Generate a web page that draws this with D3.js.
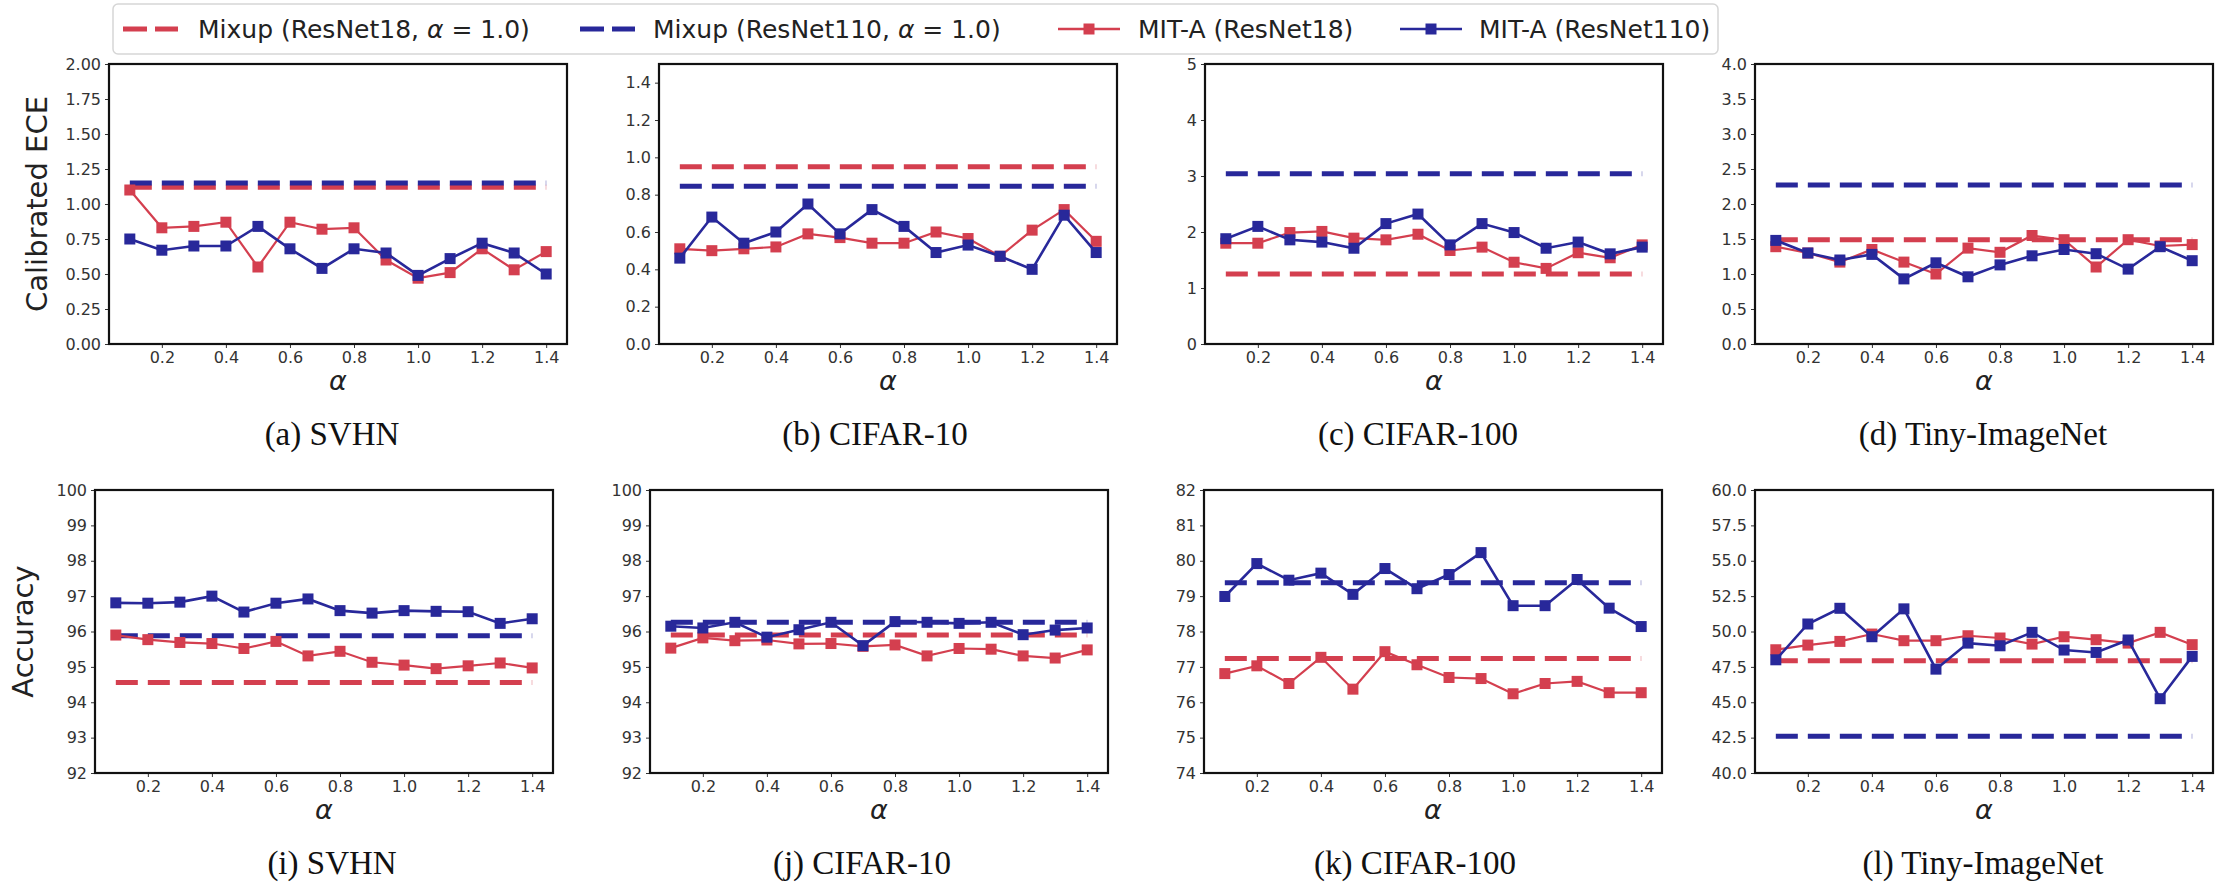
<!DOCTYPE html>
<html><head><meta charset="utf-8">
<script src="https://cdn.jsdelivr.net/npm/d3@7"></script>
<style>body{margin:0;background:#fff;} svg{display:block}</style>
</head><body>
<svg id="chart" width="2216" height="889"></svg>
<script>
// ---------------- DATA ----------------
const alphaValues = [0.1,0.2,0.3,0.4,0.5,0.6,0.7,0.8,0.9,1.0,1.1,1.2,1.3,1.4];
const xTickValues = [0.2,0.4,0.6,0.8,1.0,1.2,1.4];
const seriesLabels = ["Mixup (ResNet18, ", "Mixup (ResNet110, ", "MIT-A (ResNet18)", "MIT-A (ResNet110)"];
const datasetNames = ["SVHN","CIFAR-10","CIFAR-100","Tiny-ImageNet"];
const eceLetters = ["(a)","(b)","(c)","(d)"];
const accLetters = ["(i)","(j)","(k)","(l)"];

// Mixup baselines (alpha = 1.0), per dataset
const mixupR18ECE  = [1.12, 0.95, 1.25, 1.49];
const mixupR110ECE = [1.15, 0.845, 3.04, 2.27];
const mixupR18Acc  = [94.56, 95.90, 77.24, 47.93];
const mixupR110Acc = [95.88, 96.26, 79.38, 42.60];

// MIT-A calibrated ECE
const mitaR18ECE_SVHN   = [1.10,0.83,0.84,0.87,0.55,0.87,0.82,0.83,0.60,0.47,0.51,0.68,0.53,0.66];
const mitaR110ECE_SVHN  = [0.75,0.67,0.70,0.70,0.84,0.68,0.54,0.68,0.65,0.49,0.61,0.72,0.65,0.50];
const mitaR18ECE_C10    = [0.51,0.50,0.51,0.52,0.59,0.57,0.54,0.54,0.60,0.565,0.47,0.61,0.72,0.55];
const mitaR110ECE_C10   = [0.46,0.68,0.54,0.60,0.75,0.59,0.72,0.63,0.49,0.53,0.47,0.40,0.69,0.49];
const mitaR18ECE_C100   = [1.80,1.80,1.99,2.01,1.89,1.86,1.96,1.67,1.73,1.46,1.35,1.63,1.54,1.77];
const mitaR110ECE_C100  = [1.88,2.10,1.86,1.82,1.71,2.15,2.32,1.77,2.15,1.99,1.71,1.82,1.61,1.73];
const mitaR18ECE_Tiny   = [1.39,1.30,1.17,1.35,1.17,1.00,1.37,1.31,1.55,1.49,1.10,1.49,1.40,1.42];
const mitaR110ECE_Tiny  = [1.48,1.30,1.20,1.28,0.93,1.16,0.96,1.13,1.26,1.35,1.29,1.07,1.39,1.19];

// MIT-A accuracy
const mitaR18Acc_SVHN   = [95.90,95.77,95.69,95.66,95.52,95.72,95.31,95.44,95.13,95.05,94.95,95.03,95.11,94.97];
const mitaR110Acc_SVHN  = [96.81,96.80,96.83,97.00,96.55,96.80,96.92,96.59,96.52,96.59,96.57,96.56,96.23,96.36];
const mitaR18Acc_C10    = [95.53,95.82,95.74,95.76,95.65,95.66,95.58,95.62,95.31,95.52,95.50,95.31,95.25,95.48];
const mitaR110Acc_C10   = [96.15,96.10,96.26,95.84,96.05,96.26,95.60,96.28,96.26,96.23,96.26,95.91,96.04,96.10];
const mitaR18Acc_C100   = [76.81,77.03,76.53,77.27,76.37,77.43,77.06,76.70,76.67,76.24,76.53,76.59,76.27,76.27];
const mitaR110Acc_C100  = [78.99,79.92,79.45,79.65,79.05,79.78,79.21,79.61,80.23,78.73,78.73,79.47,78.66,78.14];
const mitaR18Acc_Tiny   = [48.71,49.04,49.30,49.82,49.35,49.35,49.70,49.54,49.11,49.63,49.42,49.18,49.94,49.07];
const mitaR110Acc_Tiny  = [48.00,50.53,51.64,49.63,51.60,47.34,49.18,48.99,49.94,48.69,48.52,49.40,45.25,48.24];

// Y axes
const yDomainECE = [[0,2.0],[0,1.5],[0,5],[0,4.0]];
const yTicksECE  = [[0,0.25,0.5,0.75,1.0,1.25,1.5,1.75,2.0],[0,0.2,0.4,0.6,0.8,1.0,1.2,1.4],[0,1,2,3,4,5],[0,0.5,1.0,1.5,2.0,2.5,3.0,3.5,4.0]];
const yFormatECE = [".2f",".1f",".0f",".1f"];
const yDomainAcc = [[92,100],[92,100],[74,82],[40,60]];
const yTicksAcc  = [[92,93,94,95,96,97,98,99,100],[92,93,94,95,96,97,98,99,100],[74,75,76,77,78,79,80,81,82],[40,42.5,45,47.5,50,52.5,55,57.5,60]];
const yFormatAcc = [".0f",".0f",".0f",".1f"];
const xDomain = [0.035, 1.465];

// ---------------- STYLE / LAYOUT ----------------
const RED = "#d43f4f", BLUE = "#28289a";
const topLefts = [109, 659, 1205, 1755], botLefts = [95, 650, 1204, 1755];
const boxW = 458;
const topRow = {top:64, bottom:344}, botRow = {top:490, bottom:773};
const topCaps = [332, 875, 1418, 1983], botCaps = [332, 862, 1415, 1983];

const mitaR18ECE = [mitaR18ECE_SVHN, mitaR18ECE_C10, mitaR18ECE_C100, mitaR18ECE_Tiny];
const mitaR110ECE = [mitaR110ECE_SVHN, mitaR110ECE_C10, mitaR110ECE_C100, mitaR110ECE_Tiny];
const mitaR18Acc = [mitaR18Acc_SVHN, mitaR18Acc_C10, mitaR18Acc_C100, mitaR18Acc_Tiny];
const mitaR110Acc = [mitaR110Acc_SVHN, mitaR110Acc_C10, mitaR110Acc_C100, mitaR110Acc_Tiny];

const panels = [];
for (let i = 0; i < 4; i++) {
  panels.push({left: topLefts[i], top: topRow.top, bottom: topRow.bottom, yDomain: yDomainECE[i], yTicks: yTicksECE[i], yFmt: yFormatECE[i],
    m18: mixupR18ECE[i], m110: mixupR110ECE[i], r18: mitaR18ECE[i], r110: mitaR110ECE[i],
    caption: eceLetters[i] + " " + datasetNames[i], capX: topCaps[i], ylabel: i === 0 ? "Calibrated ECE" : null});
}
for (let i = 0; i < 4; i++) {
  panels.push({left: botLefts[i], top: botRow.top, bottom: botRow.bottom, yDomain: yDomainAcc[i], yTicks: yTicksAcc[i], yFmt: yFormatAcc[i],
    m18: mixupR18Acc[i], m110: mixupR110Acc[i], r18: mitaR18Acc[i], r110: mitaR110Acc[i],
    caption: accLetters[i] + " " + datasetNames[i], capX: botCaps[i], ylabel: i === 0 ? "Accuracy" : null});
}

const svg = d3.select("#chart");
svg.append("rect").attr("width",2216).attr("height",889).attr("fill","#fff");

const FONT = "DejaVu Sans, sans-serif";
const MS = 11;

panels.forEach(p => {
  const g = svg.append("g");
  const x = d3.scaleLinear().domain(xDomain).range([p.left, p.left + boxW]);
  const y = d3.scaleLinear().domain(p.yDomain).range([p.bottom, p.top]);

  const xa = g.append("g").attr("transform", `translate(0,${p.bottom})`)
    .call(d3.axisBottom(x).tickValues(xTickValues).tickFormat(d3.format(".1f")).tickSize(4).tickPadding(4));
  const ya = g.append("g").attr("transform", `translate(${p.left},0)`)
    .call(d3.axisLeft(y).tickValues(p.yTicks).tickFormat(d3.format(p.yFmt)).tickSize(4).tickPadding(4));
  [xa, ya].forEach(a => {
    a.select(".domain").remove();
    a.selectAll("line").attr("stroke", "#333").attr("stroke-width", 1);
    a.selectAll("text").attr("font-family", FONT).attr("font-size", 16).attr("fill", "#333");
  });

  const line = d3.line().x((d, i) => x(alphaValues[i])).y(d => y(d));
  const flat = v => alphaValues.map(() => v);

  g.append("path").attr("d", line(flat(p.m18))).attr("fill","none").attr("stroke",RED)
    .attr("stroke-width",5).attr("stroke-dasharray","22,10");
  g.append("path").attr("d", line(flat(p.m110))).attr("fill","none").attr("stroke",BLUE)
    .attr("stroke-width",5).attr("stroke-dasharray","22,10");

  [[p.r18, RED, 2.2], [p.r110, BLUE, 2.6]].forEach(([vals, col, lw]) => {
    g.append("path").attr("d", line(vals)).attr("fill","none").attr("stroke",col).attr("stroke-width",lw);
    g.selectAll(null).data(vals).enter().append("rect")
      .attr("x", (d,i) => x(alphaValues[i]) - MS/2).attr("y", d => y(d) - MS/2)
      .attr("width", MS).attr("height", MS).attr("fill", col);
  });

  g.append("rect").attr("x", p.left).attr("y", p.top).attr("width", boxW).attr("height", p.bottom - p.top)
    .attr("fill","none").attr("stroke","#111").attr("stroke-width",2.2);

  g.append("text").attr("x", p.left + boxW/2).attr("y", p.bottom + 46).attr("text-anchor","middle")
    .attr("font-family", FONT).attr("font-style","italic").attr("font-size",27).attr("fill","#222").text("α");

  g.append("text").attr("x", p.capX).attr("y", p.bottom + 101).attr("text-anchor","middle")
    .attr("font-family","Liberation Serif, Times New Roman, serif").attr("font-size",33).attr("fill","#111").text(p.caption);

  if (p.ylabel) {
    g.append("text").attr("transform", `translate(${p.left - 62},${(p.top + p.bottom)/2}) rotate(-90)`)
      .attr("text-anchor","middle").attr("font-family", FONT).attr("font-size",29).attr("fill","#222").text(p.ylabel);
  }
});

// ---------------- LEGEND ----------------
const lg = svg.append("g");
lg.append("rect").attr("x",113).attr("y",4).attr("width",1605).attr("height",50).attr("rx",5)
  .attr("fill","#fff").attr("stroke","#d6d6d6").attr("stroke-width",1.5);
const legendItems = [
  {label: seriesLabels[0], math: true, col: RED, dashed: true, hx: 123, tx: 198},
  {label: seriesLabels[1], math: true, col: BLUE, dashed: true, hx: 580, tx: 653},
  {label: seriesLabels[2], math: false, col: RED, dashed: false, hx: 1058, tx: 1138},
  {label: seriesLabels[3], math: false, col: BLUE, dashed: false, hx: 1400, tx: 1479}
];
const ly = 29;
legendItems.forEach(it => {
  if (it.dashed) {
    lg.append("line").attr("x1", it.hx).attr("x2", it.hx + 55).attr("y1", ly).attr("y2", ly)
      .attr("stroke", it.col).attr("stroke-width", 5).attr("stroke-dasharray", "24,8");
  } else {
    lg.append("line").attr("x1", it.hx).attr("x2", it.hx + 62).attr("y1", ly).attr("y2", ly)
      .attr("stroke", it.col).attr("stroke-width", 2.4);
    lg.append("rect").attr("x", it.hx + 31 - MS/2).attr("y", ly - MS/2).attr("width", MS).attr("height", MS).attr("fill", it.col);
  }
  const t = lg.append("text").attr("x", it.tx).attr("y", ly + 9).attr("font-family", FONT).attr("font-size", 25).attr("fill", "#222");
  t.append("tspan").text(it.label);
  if (it.math) {
    t.append("tspan").attr("font-style","italic").text("α");
    t.append("tspan").text(" = 1.0)");
  }
});
</script>
</body></html>
